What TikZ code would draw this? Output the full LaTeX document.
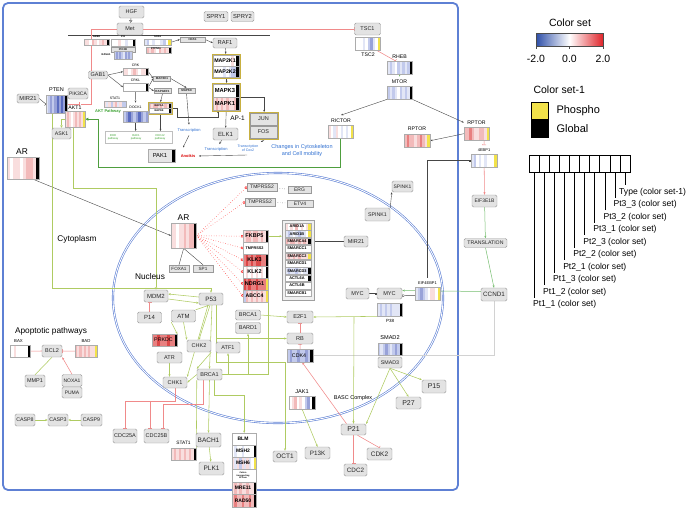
\documentclass[tikz,border=0pt]{standalone}
\usepackage{fontspec}
\setmainfont{Liberation Sans}
\usetikzlibrary{arrows.meta,calc}
\pgfdeclarelayer{bg}
\pgfsetlayers{bg,main}
\definecolor{hr1}{HTML}{F9DEDE}
\definecolor{hr2}{HTML}{F2BABA}
\definecolor{hr3}{HTML}{E88080}
\definecolor{hr4}{HTML}{DC4848}
\definecolor{hb1}{HTML}{E2E6F6}
\definecolor{hb2}{HTML}{C2CAEC}
\definecolor{hb3}{HTML}{98A2D8}
\definecolor{hb4}{HTML}{5A6CC0}
\definecolor{hw}{HTML}{FFFFFF}
\definecolor{hk}{HTML}{000000}
\definecolor{hy}{HTML}{F2E24A}
\definecolor{hg}{HTML}{E6E6E6}
\definecolor{frameblue}{HTML}{5E80D4}
\definecolor{lgreen}{HTML}{AFCB62}
\definecolor{dgreen}{HTML}{4E9E3E}
\definecolor{pinkl}{HTML}{F08A8A}
\definecolor{gold}{HTML}{C8B040}
\definecolor{txtblue}{HTML}{2F6FD0}
\definecolor{txtgreen}{HTML}{3AA030}
\definecolor{legblue}{HTML}{2E4FA8}
\definecolor{legred}{HTML}{E0242A}
\tikzset{
 fs/.style={font=\fontsize{#1}{#1}\selectfont},
 fsb/.style={font=\fontsize{#1}{#1}\selectfont\bfseries},
 gb/.style={draw=gray!80,fill=gray!22,rounded corners=1.5pt,inner sep=0pt,text=black!85,fs=5.5,line width=0.45pt},
 goldbox/.style={draw=gold,line width=1.2pt,inner sep=0pt,anchor=north west},
 ga/.style={draw=gray!55!black,line width=0.4pt,-{Stealth[length=2.2pt,width=1.8pt]}},
 gl/.style={draw=gray!55!black,line width=0.4pt},
 lg/.style={draw=lgreen,line width=0.55pt},
 lga/.style={lg,-{Stealth[length=2.5pt,width=2pt]}},
 lgo/.style={lg,-{Triangle[open,length=2.5pt,width=2.5pt]}},
 rt/.style={draw=pinkl,line width=0.55pt,-{Bar[width=4pt]}},
 ra/.style={draw=pinkl,line width=0.55pt,-{Stealth[length=2.5pt,width=2pt]}},
 rd/.style={draw=red!80,line width=0.5pt,dotted,-{Square[open,length=2pt,width=2.2pt]}},
 sq/.style={gl,-{Square[open,length=2pt,width=2pt]}}
}
\newcommand{\hmap}[6]{%
  \foreach \hmC [count=\hmI from 0] in {#6} {%
    \fill[\hmC] ({#2+\hmI*#4/10},#3) rectangle ({#2+(\hmI+1)*#4/10+0.15},{#3+#5});}%
  \node[draw=gray!65,line width=0.35pt,inner sep=0pt,minimum width=#4pt,minimum height=#5pt,anchor=north west] (#1) at (#2,#3) {};%
}
\newcommand{\gbox}[7][]{\node[gb,minimum width=#5pt,minimum height=#6pt,#1] (#2) at (#3,#4) {#7};}
\begin{document}
\begin{tikzpicture}[x=1pt,y=-1pt]
\useasboundingbox (0,0) rectangle (690,509);
% ================= top =================
\gbox{HGF}{131.5}{12}{25}{12}{HGF}
\gbox{Met}{130}{29}{26}{12}{Met}
\gbox[fs=5.8]{SPRYa}{216}{16.5}{24}{10}{SPRY1}
\gbox[fs=5.8]{SPRYb}{242.5}{16.5}{23}{10}{SPRY2}
\gbox{TSCa}{367.5}{29}{26}{12}{TSC1}
\hmap{GRB}{84}{39}{25}{6}{hr1,hr1,hw,hr2,hr1,hw,hr1,hr2,hr1,hk}
\node[fsb=2.6] (GRBl) at (96.5,37) {GRB2};
\hmap{PIt}{111}{39}{24}{7}{hw,hw,hw,hr1,hw,hw,hb1,hw,hw,hk}
\node[fsb=2.6] (PItl) at (123,37) {PI3};
\gbox[fsb=2.8,rounded corners=0pt]{PIKB}{123}{49.5}{24}{5}{PIK3B}
\hmap{SOS}{144}{39}{27}{6}{hb1,hb2,hw,hb1,hw,hw,hb1,hb2,hw,hy}
\node[fsb=2.6] (SOSl) at (157.5,37) {SOS1};
\hmap{PTPN}{146}{47}{25}{6}{hr2,hr1,hr2,hr1,hw,hr2,hr1,hr2,hr1,hk}
\node[fsb=2.6] (PTPNl) at (156,48.8) {PTPN11};
\gbox[fsb=2.8,rounded corners=0pt]{HRAS}{192.5}{39.5}{25}{5}{HRAS}
\gbox[fs=5.8]{RAF}{225}{43}{24}{10}{RAF1}
\hmap{RASA}{114}{51}{18}{8}{hb2,hb3,hb2,hb3,hb2,hb1,hb3,hb2,hb3,hb2}
\node[fsb=2.6,anchor=east] (RASAl) at (114,55) {RASA1};
\gbox{GAB}{98}{75}{19}{8}{GAB1}
\gbox[fs=5]{PIKCA}{78}{93.5}{20}{11}{PIK3CA}
\gbox[fs=5.8]{MIRa}{28}{98.5}{22}{9}{MIR21}
\node[fs=5.5] (PTENl) at (56.5,90) {PTEN};
\hmap{PTEN}{46}{95}{21}{18}{hb1,hb2,hb3,hb2,hb3,hb4,hb3,hb4,hb3,hk}
\node[fs=5.2] (AKTl) at (75,107.5) {AKT1};
\hmap{AKT}{65}{111}{20}{16}{hr1,hr2,hr1,hw,hr1,hr2,hr1,hr2,hr1,hy}
\gbox[fs=5.2]{ASK}{61.5}{133.5}{19}{11}{ASK1}
\node[fs=3.5] (CRKl) at (135.5,65) {CRK};
\hmap{CRK}{123}{68}{25}{7}{hr1,hr1,hw,hr1,hr2,hr1,hw,hr1,hr1,hk}
\node[fs=3.5] (CRKLl) at (135.5,80) {CRKL};
\hmap{CRKL}{123}{83}{25}{8}{hw,hw,hw,hw,hw,hw,hw,hw,hw,hk}
\gbox[fsb=3,rounded corners=0pt]{MAPfour}{162}{78.5}{17}{5}{MAP4K1}
\gbox[fsb=3,rounded corners=0pt]{RAPGEF}{162.5}{91}{17}{5}{RAPGEF1}
\gbox[fsb=3,rounded corners=0pt]{MAPKeight}{186.5}{90.5}{17}{5}{MAPK8}
\node[fs=3.5] (STATsl) at (115,98.5) {STAT1};
\hmap{STATs}{104}{101}{22}{6}{hr1,hb1,hr1,hb2,hr1,hr2,hb1,hr1,hb2,hb2}
\node[fsb=4,text=txtgreen] (AKTpw) at (108,111) {AKT Pathway};
\hmap{RAPa}{149}{103}{22}{5}{hr2,hr1,hr2,hr2,hr1,hr2,hr1,hr2,hr1,hk}
\hmap{RAPb}{149}{108}{22}{5}{hw,hw,hw,hw,hw,hw,hw,hw,hw,hk}
\node[fsb=2.6] (RAPal) at (159,105.5) {RAP1A};
\node[fsb=2.6] (RAPbl) at (159,110.5) {RAP1B};
\node[goldbox,line width=1pt,minimum width=24pt,minimum height=12pt] (RAP) at (148,102) {};
\node[fs=3.5] (DOCKl) at (135.5,107.5) {DOCK1};
\hmap{DOCK}{123}{111}{25}{11}{hb2,hb3,hb4,hb3,hb2,hb3,hb4,hb3,hb2,hb3}
\node[draw=gray!50,line width=0.3pt,inner sep=0pt,minimum width=67pt,minimum height=12pt,anchor=north west] (PW) at (105,131) {};
\node[fs=2.8,text=txtgreen,align=center] (PWa) at (113,137) {RHO\\pathway};
\node[fs=2.8,text=txtgreen,align=center] (PWb) at (136,137) {RAC1\\pathway};
\node[fs=2.8,text=txtgreen,align=center] (PWc) at (160,137) {CDC42\\pathway};
\node[fs=4,text=txtblue] (Tra) at (189,130) {Transcription};
\hmap{PAK}{148}{149}{27}{13}{hg,hg,hg,hg,hg,hg,hg,hg,hg,hk}
\node[fs=5.8] (PAKl) at (160,155.5) {PAK1};
\node[fsb=4,text=red!85!black] (Anoikis) at (188,156) {Anoikis};
\hmap{MAPKKa}{213}{55}{26}{11}{hw,hw,hw,hw,hw,hw,hw,hr1,hw,hk}
\hmap{MAPKKb}{213}{66}{26}{11}{hw,hw,hw,hw,hb1,hw,hb1,hb2,hb2,hk}
\node[fsb=5.3] (MAPKKal) at (225,60.5) {MAP2K1};
\node[fsb=5.3] (MAPKKbl) at (225,71.5) {MAP2K2};
\node[goldbox,minimum width=28pt,minimum height=24pt] (MAPKK) at (212,54) {};
\hmap{MAPKa}{213}{84}{26}{13}{hw,hw,hw,hw,hw,hw,hw,hw,hw,hk}
\hmap{MAPKb}{213}{97}{26}{13}{hr1,hr2,hr1,hr2,hr1,hr2,hr1,hr1,hr2,hk}
\node[fsb=5.8] (MAPKal) at (225,90.5) {MAPK3};
\node[fsb=5.8] (MAPKbl) at (225,103.5) {MAPK1};
\node[goldbox,minimum width=28pt,minimum height=28pt] (MAPK) at (212,83) {};
\node[fs=6.5] (APl) at (237.5,118) {AP-1};
\gbox[rounded corners=0pt]{JUN}{263.5}{119}{27}{12}{JUN}
\gbox[rounded corners=0pt]{FOS}{263.5}{132}{27}{12}{FOS}
\node[goldbox,minimum width=29pt,minimum height=27pt] (APone) at (249,112) {};
\gbox[fs=6]{ELK}{225.5}{134}{25}{12}{ELK1}
\node[fs=4,text=txtblue] (Trb) at (216,149.5) {Transcription};
\node[fs=3.6,text=txtblue,align=center] (Cox) at (248,148.5) {Transcription\\of Cox2};
\node[font=\fontsize{5.5}{6.8}\selectfont,text=txtblue,align=center] (Chg) at (302,150.5) {Changes in Cytoskeleton\\and Cell mobility};
\hmap{TSCb}{355}{37}{25}{13}{hw,hw,hw,hb1,hw,hb2,hb3,hb1,hw,hy}
\node[fs=5.2] (TSCbl) at (368,55) {TSC2};
\node[fs=5.2] (RHEBl) at (399.5,57) {RHEB};
\hmap{RHEB}{387}{61}{25}{13}{hb1,hb2,hb1,hw,hb2,hb1,hb2,hb1,hb2,hk}
\node[fs=5.2] (MTORl) at (399.5,82) {MTOR};
\hmap{MTOR}{387}{86}{25}{13}{hb2,hb1,hb2,hb1,hw,hb2,hb1,hb2,hb1,hk}
\node[fs=5.2] (RICl) at (341,120.5) {RICTOR};
\hmap{RIC}{328}{125}{25}{13}{hr1,hw,hb1,hr1,hw,hb1,hw,hb1,hw,hy}
\node[fs=5.2] (RPTal) at (417,129) {RPTOR};
\hmap{RPTa}{404}{134}{26}{13}{hr2,hr3,hr2,hr2,hr1,hr2,hr3,hr2,hr1,hy}
\node[fs=5.2] (RPTbl) at (476.5,122.5) {RPTOR};
\hmap{RPTb}{464}{127}{25}{13}{hr2,hr2,hr3,hr2,hr1,hr1,hr2,hr2,hr1,hy}
\node[fs=4] (EBPl) at (484,150) {4EBP1};
\hmap{EBP}{471}{154}{26}{13}{hb1,hb2,hw,hb1,hw,hb1,hw,hw,hw,hy}
\gbox[fs=5]{EIFthree}{484.5}{201}{25}{12}{EIF3E1B}
\gbox[fs=5.2]{TRANS}{485.5}{243}{43}{9}{TRANSLATION}
\gbox[fs=6.3]{CCND}{494}{294.5}{26}{13}{CCND1}
\node[fs=4] (EIFfourl) at (427.5,283) {EIF4EBP1};
\hmap{EIFfour}{415}{287}{25}{13}{hb1,hb2,hb3,hb2,hb1,hw,hr1,hr1,hw,hy}
% ================= middle =================
\node[fs=8.4] (ARol) at (22,152) {AR};
\hmap{ARo}{7}{157}{32}{22}{hr1,hw,hr1,hr1,hw,hr1,hr2,hr2,hr1,hk}
\node[fs=8.3] (Cyto) at (77,239) {Cytoplasm};
\node[fs=8.3] (Nuc) at (150,277) {Nucleus};
\node[fs=8.4] (ARil) at (183.5,218) {AR};
\hmap{ARi}{171}{223}{25}{25}{hr1,hr1,hw,hr1,hr1,hr2,hr1,hr2,hr2,hk}
\gbox[fs=4.6,rounded corners=0pt]{FOX}{179}{268.5}{20}{7}{FOXA1}
\gbox[fs=4.6,rounded corners=0pt]{SPone}{203}{268.5}{20}{7}{SP1}
\gbox[fs=5,rounded corners=0pt]{TMPa}{262}{187}{30}{8}{TMPRSS2}
\gbox[fs=5,rounded corners=0pt]{ERG}{299.5}{190}{23}{7}{ERG}
\gbox[fs=5,rounded corners=0pt]{TMPb}{260}{202}{30}{8}{TMPRSS2}
\gbox[fs=5,rounded corners=0pt]{ETV}{300}{203.5}{26}{7}{ETV4}
\gbox[fs=5]{SPKa}{402.5}{186.5}{21}{11}{SPINK1}
\gbox[fs=5.3]{SPKb}{377.5}{214.5}{25}{13}{SPINK1}
\hmap{FKBP}{243}{230}{25}{12}{hr1,hr2,hr2,hr1,hr2,hr2,hr1,hr2,hr1,hk}
\hmap{TMPc}{243}{242}{25}{12}{hw,hw,hw,hw,hw,hw,hw,hw,hw,hw}
\hmap{KLKt}{243}{254}{25}{12}{hr3,hr4,hr3,hr4,hr3,hr4,hr4,hr3,hr3,hk}
\hmap{KLKtw}{243}{266}{25}{12}{hw,hr1,hw,hr1,hw,hr1,hw,hr1,hw,hk}
\hmap{NDRG}{243}{278}{25}{12}{hr4,hr3,hr4,hr3,hr3,hr4,hr3,hr3,hr3,hy}
\hmap{ABCC}{243}{290}{25}{12}{hb2,hr2,hr1,hr2,hr1,hr2,hr1,hr2,hr1,hy}
\node[fsb=5.5] (FKBPl) at (254.5,236) {FKBP5};
\node[fsb=3.8] (TMPcl) at (254.5,248) {TMPRSS2};
\node[fsb=5.5] (KLKtl) at (254.5,260) {KLK3};
\node[fsb=5.5] (KLKtwl) at (254.5,272) {KLK2};
\node[fsb=5.5] (NDRGl) at (254.5,284) {NDRG1};
\node[fsb=5.2] (ABCCl) at (254.5,296) {ABCC4};
\node[draw=gray!60,line width=0.4pt,inner sep=0pt,minimum width=25pt,minimum height=72pt,anchor=north west] (ARcol) at (243,230) {};
\node[draw=gray!75,fill=gray!12,line width=0.45pt,inner sep=0pt,minimum width=32pt,minimum height=80pt,anchor=north west] (SWI) at (282,220) {};
\hmap{swa}{285}{223}{26}{6.6}{hr1,hw,hr1,hw,hr2,hw,hr1,hw,hr1,hy}
\hmap{swb}{285}{230.4}{26}{6.6}{hb1,hb2,hb1,hw,hb1,hb2,hb1,hb1,hw,hy}
\hmap{swc}{285}{237.8}{26}{6.6}{hr2,hr1,hr2,hr2,hr1,hr2,hr1,hr2,hr1,hk}
\hmap{swd}{285}{245.2}{26}{6.6}{hw,hw,hw,hw,hw,hw,hw,hw,hw,hw}
\hmap{swe}{285}{252.6}{26}{6.6}{hr1,hr2,hr1,hr2,hr1,hr2,hr1,hr1,hr1,hy}
\hmap{swf}{285}{260}{26}{6.6}{hw,hw,hw,hw,hw,hw,hw,hw,hw,hw}
\hmap{swg}{285}{267.4}{26}{6.6}{hb1,hb2,hb1,hb1,hb2,hb1,hw,hb1,hb1,hk}
\hmap{swh}{285}{274.8}{26}{6.6}{hw,hw,hw,hw,hw,hw,hw,hw,hw,hk}
\hmap{swi}{285}{282.2}{26}{6.6}{hw,hw,hw,hw,hw,hw,hw,hw,hw,hw}
\hmap{swj}{285}{289.6}{26}{6.6}{hw,hw,hw,hw,hw,hw,hw,hw,hw,hw}
\node[fsb=3.9] (swal) at (297,226.3) {ARID1A};
\node[fsb=3.9] (swbl) at (297,233.7) {ARID1B};
\node[fsb=3.9] (swcl) at (297,241.1) {SMARCA4};
\node[fsb=3.9] (swdl) at (297,248.5) {SMARCC1};
\node[fsb=3.9] (swel) at (297,255.9) {SMARCC2};
\node[fsb=3.9] (swfl) at (297,263.3) {SMARCD1};
\node[fsb=3.9] (swgl) at (297,270.7) {SMARCD3};
\node[fsb=3.9] (swhl) at (297,278.1) {ACTL6A};
\node[fsb=3.9] (swil) at (297,285.5) {ACTL6B};
\node[fsb=3.9] (swjl) at (297,292.9) {SMARCB1};
\gbox[fs=5.6]{MIRb}{356}{241.5}{24}{11}{MIR21}
\gbox[fs=5.6]{MYCa}{357.5}{293.5}{23}{11}{MYC}
\gbox[fs=5.6]{MYCb}{389.5}{293.5}{25}{11}{MYC}
\hmap{PTE}{377}{303}{25}{13}{hb1,hb2,hb1,hb2,hb1,hb2,hb1,hb1,hb1,hk}
\node[fs=4.5] (PTEl) at (390,320.5) {P38};
% ================= lower nucleus =================
\gbox[fs=6]{MDM}{156}{296}{24}{12}{MDM2}
\gbox[fs=6]{Pft}{149.5}{317.5}{24}{11}{P14}
\gbox[fs=6.3]{Pff}{211}{299}{24}{12}{P53}
\gbox[fs=6]{ATM}{183.5}{316}{24}{12}{ATM}
\hmap{PRK}{152}{334}{25}{12}{hr3,hr3,hr4,hr3,hr3,hr3,hr4,hr3,hr3,hk}
\node[fs=5.3] (PRKl) at (163.5,340) {PRKDC};
\gbox{CHKb}{199}{346}{24}{12}{CHK2}
\gbox{ATF}{228}{347.5}{24}{11}{ATF1}
\gbox{ATR}{169.5}{357.5}{25}{11}{ATR}
\gbox{CHKa}{175}{382.5}{24}{11}{CHK1}
\gbox{BRl}{209.5}{374.5}{25}{11}{BRCA1}
\gbox{BRu}{248}{315}{25}{10}{BRCA1}
\gbox{BARD}{248}{328}{25}{11}{BARD1}
\gbox[fs=5.6]{EtwoF}{300}{317}{26}{12}{E2F1}
\gbox[fs=5.6]{RB}{300}{338.5}{26}{11}{RB}
\hmap{CDKf}{287}{349}{26}{13}{hb2,hb3,hb2,hb2,hb3,hb2,hb2,hb3,hb2,hk}
\node[fs=5.3] (CDKfl) at (299,355.5) {CDK4};
\node[fs=5.6] (JAKl) at (302,391.5) {JAK1};
\hmap{JAK}{289}{396}{26}{13}{hw,hr1,hr2,hw,hr1,hw,hb2,hb3,hw,hk}
\node[fs=5.5] (BASC) at (353,398) {BASC Complex};
\node[fs=5.6] (SMADbl) at (390,337.5) {SMAD2};
\hmap{SMADb}{378}{343}{24}{12}{hb2,hb1,hb2,hb3,hb2,hb1,hb2,hb3,hb2,hk}
\gbox[fs=5.3]{SMADc}{390}{362.5}{24}{11}{SMAD3}
\gbox[fs=7]{Pfif}{434}{386.5}{24}{13}{P15}
\gbox[fs=7]{Ptws}{408.5}{403}{25}{12}{P27}
\gbox[fs=7]{Ptwo}{353.5}{429.5}{25}{11}{P21}
\gbox[fs=6.5]{CDKtwo}{379.5}{454}{25}{12}{CDK2}
\gbox[fs=6.3]{CDCtwo}{355.5}{470}{23}{12}{CDC2}
\gbox[fs=6.5]{OCT}{285}{456.5}{24}{11}{OCT1}
\gbox[fs=6.3]{PthK}{317.5}{453}{25}{12}{P13K}
\hmap{BLM}{232}{433}{24}{12}{hw,hw,hw,hw,hw,hw,hw,hw,hw,hw}
\hmap{MSHt}{232}{445}{24}{12}{hw,hb1,hw,hw,hb1,hw,hw,hw,hw,hk}
\hmap{MSHs}{232}{457}{24}{12}{hr1,hb1,hr1,hb2,hr1,hb1,hr1,hb1,hw,hy}
\hmap{CAT}{232}{469}{24}{13}{hw,hw,hw,hw,hw,hw,hw,hw,hw,hw}
\hmap{MRE}{232}{482}{24}{12}{hr1,hr2,hr1,hr2,hr1,hr1,hr2,hr1,hr1,hk}
\hmap{RAD}{232}{494}{24}{13}{hr2,hr3,hr2,hr2,hr3,hr2,hr2,hr3,hr2,hk}
\node[fsb=5] (BLMl) at (243,439) {BLM};
\node[fsb=5] (MSHtl) at (243,451) {MSH2};
\node[fsb=5] (MSHsl) at (243,463) {MSH6};
\node[font=\fontsize{2.2}{2.5}\selectfont\bfseries,align=center] (CATl) at (243,475.5) {Cation\\transporting\\ATPase};
\node[fsb=5] (MREl) at (243,488) {MRE11};
\node[fsb=5] (RADl) at (243,500.5) {RAD50};
\gbox[fs=6.5]{BACH}{208.5}{440}{25}{14}{BACH1}
\gbox[fs=6.5]{PLK}{211.5}{468.5}{25}{13}{PLK1}
\node[fs=4.8] (STATll) at (183.5,443) {STAT1};
\hmap{STATl}{171}{448}{25}{12}{hr1,hr2,hr1,hr2,hr1,hr2,hr1,hr2,hr1,hk}
\gbox{CDCa}{125}{436}{24}{14}{CDC25A}
\gbox{CDCb}{156.5}{436}{25}{14}{CDC25B}
% ================= apoptotic =================
\node[fs=8.3] (Apo) at (51,331) {Apoptotic pathways};
\node[fs=4.3] (BAXl) at (18.5,341) {BAX};
\hmap{BAX}{10}{345}{20}{12}{hw,hw,hr1,hw,hw,hw,hw,hw,hw,hk}
\gbox{BCL}{52}{351}{20}{12}{BCL2}
\node[fs=4.3] (BADl) at (86,341) {BAD};
\hmap{BAD}{75}{345}{22}{12}{hr2,hr1,hr2,hr1,hr2,hr1,hr2,hr1,hr1,hy}
\gbox{MMP}{35}{381}{20}{12}{MMP1}
\gbox[fs=5]{NOXA}{72}{380.5}{20}{12}{NOXA1}
\gbox[fs=5]{PUMA}{72}{392.5}{20}{11}{PUMA}
\gbox[fs=5.3]{CASPe}{25}{420}{20}{12}{CASP8}
\gbox[fs=5.3]{CASPt}{58}{420}{20}{12}{CASP3}
\gbox[fs=5.3]{CASPn}{91.5}{420}{21}{12}{CASP9}
% ================= legend =================
\node[fs=10.5] (lgTitle) at (570,23) {Color set};
\shade[left color=legblue,right color=legred,middle color=white] (536,33) rectangle (603,46);
\draw[black!70,line width=0.4pt] (536,33) rectangle (603,46);
\foreach \tx/\tl [count=\tk] in {536/-2.0,569.5/0.0,603/2.0} {
  \draw[black!70,line width=0.4pt] (\tx,46) -- (\tx,49);
  \node[fs=10.5] (tk\tk) at (\tx,58.5) {\tl};
}
\node[fs=10.5,anchor=west] (lgCS) at (530,90) {Color set-1};
\fill[hy] (531,102) rectangle (548,119);
\fill[black] (531,119) rectangle (548,137);
\draw[black,line width=0.6pt] (531,102) rectangle (548,137);
\node[fs=11,anchor=west] (lgPh) at (553,111) {Phospho};
\node[fs=11,anchor=west] (lgGl) at (553,128.5) {Global};
\foreach \i in {0,...,9} {\draw[line width=0.6pt] ({529.3+\i*10.07},155) rectangle ++(10.07,17);}
\foreach \i/\lab in {0/{Pt1\_1 (color set)},1/{Pt1\_2 (color set)},2/{Pt1\_3 (color set)},3/{Pt2\_1 (color set)},4/{Pt2\_2 (color set)},5/{Pt2\_3 (color set)},6/{Pt3\_1 (color set)},7/{Pt3\_2 (color set)},8/{Pt3\_3 (color set)},9/{Type (color set-1)}} {
  \pgfmathsetmacro\lx{529.3+(\i+0.5)*10.07}
  \pgfmathsetmacro\ly{304.3-\i*12.48}
  \pgfmathsetmacro\tlx{\lx-(\i==9?6:1.5)}
  \draw[line width=0.6pt] (\lx,172) -- (\lx,\ly-6.5);
  \node[fs=8.6,anchor=west,inner sep=0pt] (leg\i) at (\tlx,\ly) {\lab};
}
% ================= connectors =================
\begin{pgfonlayer}{bg}
\draw[frameblue,line width=1.8pt,rounded corners=5pt] (3,3) rectangle (458,490);
\draw[frameblue,line width=0.6pt,double=white,double distance=0.9pt] (278,298) ellipse [x radius=165,y radius=125];
\draw[gl] (68,35) -- (270,35);
\draw[ga,-{Triangle[open,length=2.5pt,width=3pt]}] (HGF) -- (Met);
\draw[ga] (SOS.east) -- (HRAS.west);
\draw[ga] (HRAS.east) -- (RAF.west);
\draw[ga] (RAF) -- (MAPKK);
\draw[ga] (MAPKK) -- (MAPK);
\draw[ga] (MAPK) -- (ELK);
\draw[ga] (MAPK.east) -| (APone.north);
\draw[ga] (ELK) -- (Trb);
\draw[ga] (APone.south) -- (Cox);
\coordinate (anE) at (247,155);
\draw[ga] (anE) -- (Anoikis.east);
\draw[ga] (GAB.east) -- (CRK.west);
\draw[ga] (GAB.east) -- (CRKL.west);
\draw[ga] (CRK.east) -- (MAPfour.west);
\draw[ga] (CRKL.east) -- (MAPfour.west);
\draw[ga] (CRKL.east) -- (RAPGEF.west);
\draw[ga] (MAPfour.east) -- (MAPKeight.north);
\draw[ga] (RAPGEF.south) -- (RAP.north);
\draw[ga] (CRKL.south) -- (DOCKl.north);
\draw[ga] (DOCK.south) -- (DOCK.south |- PW.north);
\draw[ga] (RAP.south) -- (RAP.south |- PW.north);
\coordinate (rpA) at (177,117);
\coordinate (rpB) at (218,111);
\draw[ga] (RAP.east) -| (rpA) -| (rpB);
\draw[ga] (MAPKeight.south) -- (Tra.north);
\coordinate (trEnd) at (183,147.5);
\draw[ga] (Tra.south) -- (trEnd);
\draw[gl,-{Bar[width=4pt]}] (MIRa.east) -- (PTEN.west);
\draw[rt] (PTEN.east) -- ++(12,0);
\coordinate (pkA) at (81,104);
\coordinate (pkB) at (91,104);
\draw[rt] (pkA) -- (pkB) |- (TSCa.west);
\draw[rt] ($(TSCb.south)+(9,0)$) -- ($(RHEB.north)+(-4,0)$);
\draw[draw=txtgreen!70,line width=0.5pt,-{Stealth[length=2.5pt,width=2pt]}] (RHEB.south) -- (MTORl.north);
\draw[ga] (MTOR.south west) -- (RICl.north);
\draw[ga] (MTOR.south east) -- (RPTbl.west);
\draw[ga] (RPTb.west) -- (RPTa.east);
\draw[rt] (RPTb.south -| EBP.north) -- (EBPl.north);
\draw[ra] (EBP.south) -- (EIFthree.north);
\draw[draw=txtgreen!70,line width=0.5pt,-{Stealth[length=2.5pt,width=2pt]}] (EIFthree) -- (TRANS);
\draw[draw=txtgreen!70,line width=0.5pt,-{Stealth[length=2.5pt,width=2pt]}] (TRANS.south) -- (CCND.north);
\draw[gl,{Square[open,length=2pt,width=2pt]}-] (EBP.west) -| (EIFfourl.north);
\draw[draw=txtgreen!70,line width=0.5pt,-{Stealth[length=2.5pt,width=2pt]}] ($(CCND.west)+(0,-3)$) -- ($(MYCb.east)+(0,-3)$);
\draw[sq] ($(EIFfour.west)+(0,2)$) -- ($(MYCb.east)+(0,2)$);
\draw[sq] (MYCa.east) -- (MYCb.west);
\draw[gray!35,line width=0.5pt] (CCND.south) |- (CDKf.east);
\draw[ga] ($(ARo.south east)+(-6,0)$) -- (ARi.west);
\draw[gl] (ARi.south) -- (FOX.north);
\draw[gl] (ARi.south) -- (SPone.north);
\draw[gl,dotted] (TMPa) -- (ERG);
\draw[gl,dotted] (TMPb) -- (ETV);
\draw[ga] (SPKb.north east) -- (SPKa.south west);
\draw[gl,-{Bar[width=4pt]}] (MIRb.west) -- (SWI.east |- MIRb.west);
\draw[lga] (FKBP.east) -- (SWI.west |- FKBP.east);
\foreach \tg in {TMPa,TMPb,FKBP,TMPc,KLKt,KLKtw,NDRG,ABCC} {\draw[rd] (ARi.east) -- (\tg.west);}
\fill[red] (ARi.east) circle (1.3);
\draw[dgreen,line width=0.9pt,-{Triangle[open,length=3pt,width=3pt]}] (RIC.south) |- (98,167) |- (AKT.east);
\draw[lga] ($(PTEN.south)+(-4.5,0)$) -- ++(0,175) -| (Pff.north);
\draw[lgo] ($(AKT.south)+(-2,0)$) -- ++(0,61) -| (MDM.north);
\draw[lgo] (AKT.west) -| (ASK.north);
\draw[lga] ($(Pff.west)+(0,-2)$) -- ($(MDM.east)+(0,-2)$);
\draw[lga] ($(MDM.east)+(0,3)$) -- ($(Pff.west)+(0,4)$);
\draw[lga] (ATM.north east) -- ($(Pff.south)+(-2,0)$);
\draw[lga] ($(Pff.south)+(-1,0)$) -- (CHKb.north);
\draw[lga] ($(Pff.south)+(1,0)$) -- (BRl.north);
\draw[lga] ($(Pff.south)+(-3,0)$) -- (CHKa.north east);
\draw[lga] (ATM.south) -- (CHKb.north west);
\draw[lga] (ATM.south west) -- (PRK.north east);
\draw[lga] (ATR.south) -- (ATR.south |- CHKa.north);
\draw[lga] (CHKb.south east) -- (BRl.north west);
\draw[lga] (BRl.west) -- (CHKa.east);
\coordinate (vA) at (268,302);
\draw[lg] (BRl.east) -| (vA);
\draw[lga] (ATF.south |- BRl.east) -- (ATF.south);
\draw[lga] (BARD.south |- BRl.east) -- (BARD.south);
\draw[lga] (BRu.east) -- (EtwoF.west);
\coordinate (wA) at (216,305);
\coordinate (wB) at (216,338.5);
\coordinate (wC) at (216,362);
\draw[lg] (wA) -- (wC);
\draw[lga] (wB) -- (RB.west);
\draw[lga] (wC) -| (OCT.north);
\draw[lga] (BRl.south) -- (BACH.north);
\draw[lga] (BACH) -- (PLK);
\draw[lga] ($(BRl.south)+(5,0)$) -- ++(0,15) -| (BLM.north);
\draw[lg] (BRl.south west) -- (STATl.north east);
\draw[lga] (PTE.south west) -- (EtwoF.east);
\coordinate (wD) at (354,317);
\draw[lga] (wD) -- (Ptwo.north);
\draw[lga] (JAK.south) -- (PthK.north);
\draw[lga] (SMADc.south) -- (Ptws.north);
\draw[lga] (SMADc.south) -- (Pfif.north west);
\draw[lga] (SMADc.south) -- (Ptwo.north east);
\draw[rt] (Pft.north) -- (Pft.north |- MDM.south);
\coordinate (cA) at (175,401);
\draw[rt] (CHKa.south) -- (cA) -| (CDCa.north);
\draw[rt] ($(CDCb.north)+(-6.5,-28)$) -- ($(CDCb.north)+(-6.5,0)$);
\draw[rt] ($(BRl.south)+(-6.5,0)$) -- ++(0,24) -| ($(CDCb.north)+(6.5,0)$);
\draw[rt] (RB.north) -- (EtwoF.south);
\draw[rt] (CDKf.north) -- (RB.south);
\draw[ra] ($(Ptwo.north)+(-7,0)$) -- ($(CDKf.south)+(2,0)$);
\draw[rt] (Ptwo.south) -- (Ptwo.south |- CDCtwo.north);
\draw[rt] ($(Ptwo.south)+(4,0)$) -- (CDKtwo.north);
\draw[rt] (BCL.west) -- (BAX.east);
\draw[rt] (BAD.west) -- (BCL.east);
\draw[ra] (NOXA.north) -- (BCL.south east);
\draw[lg] (BCL.south) -- (MMP.north);
\draw[lga] (CASPe) -- (CASPt);
\draw[lga] (CASPn) -- (CASPt);
\end{pgfonlayer}
\end{tikzpicture}
\end{document}
